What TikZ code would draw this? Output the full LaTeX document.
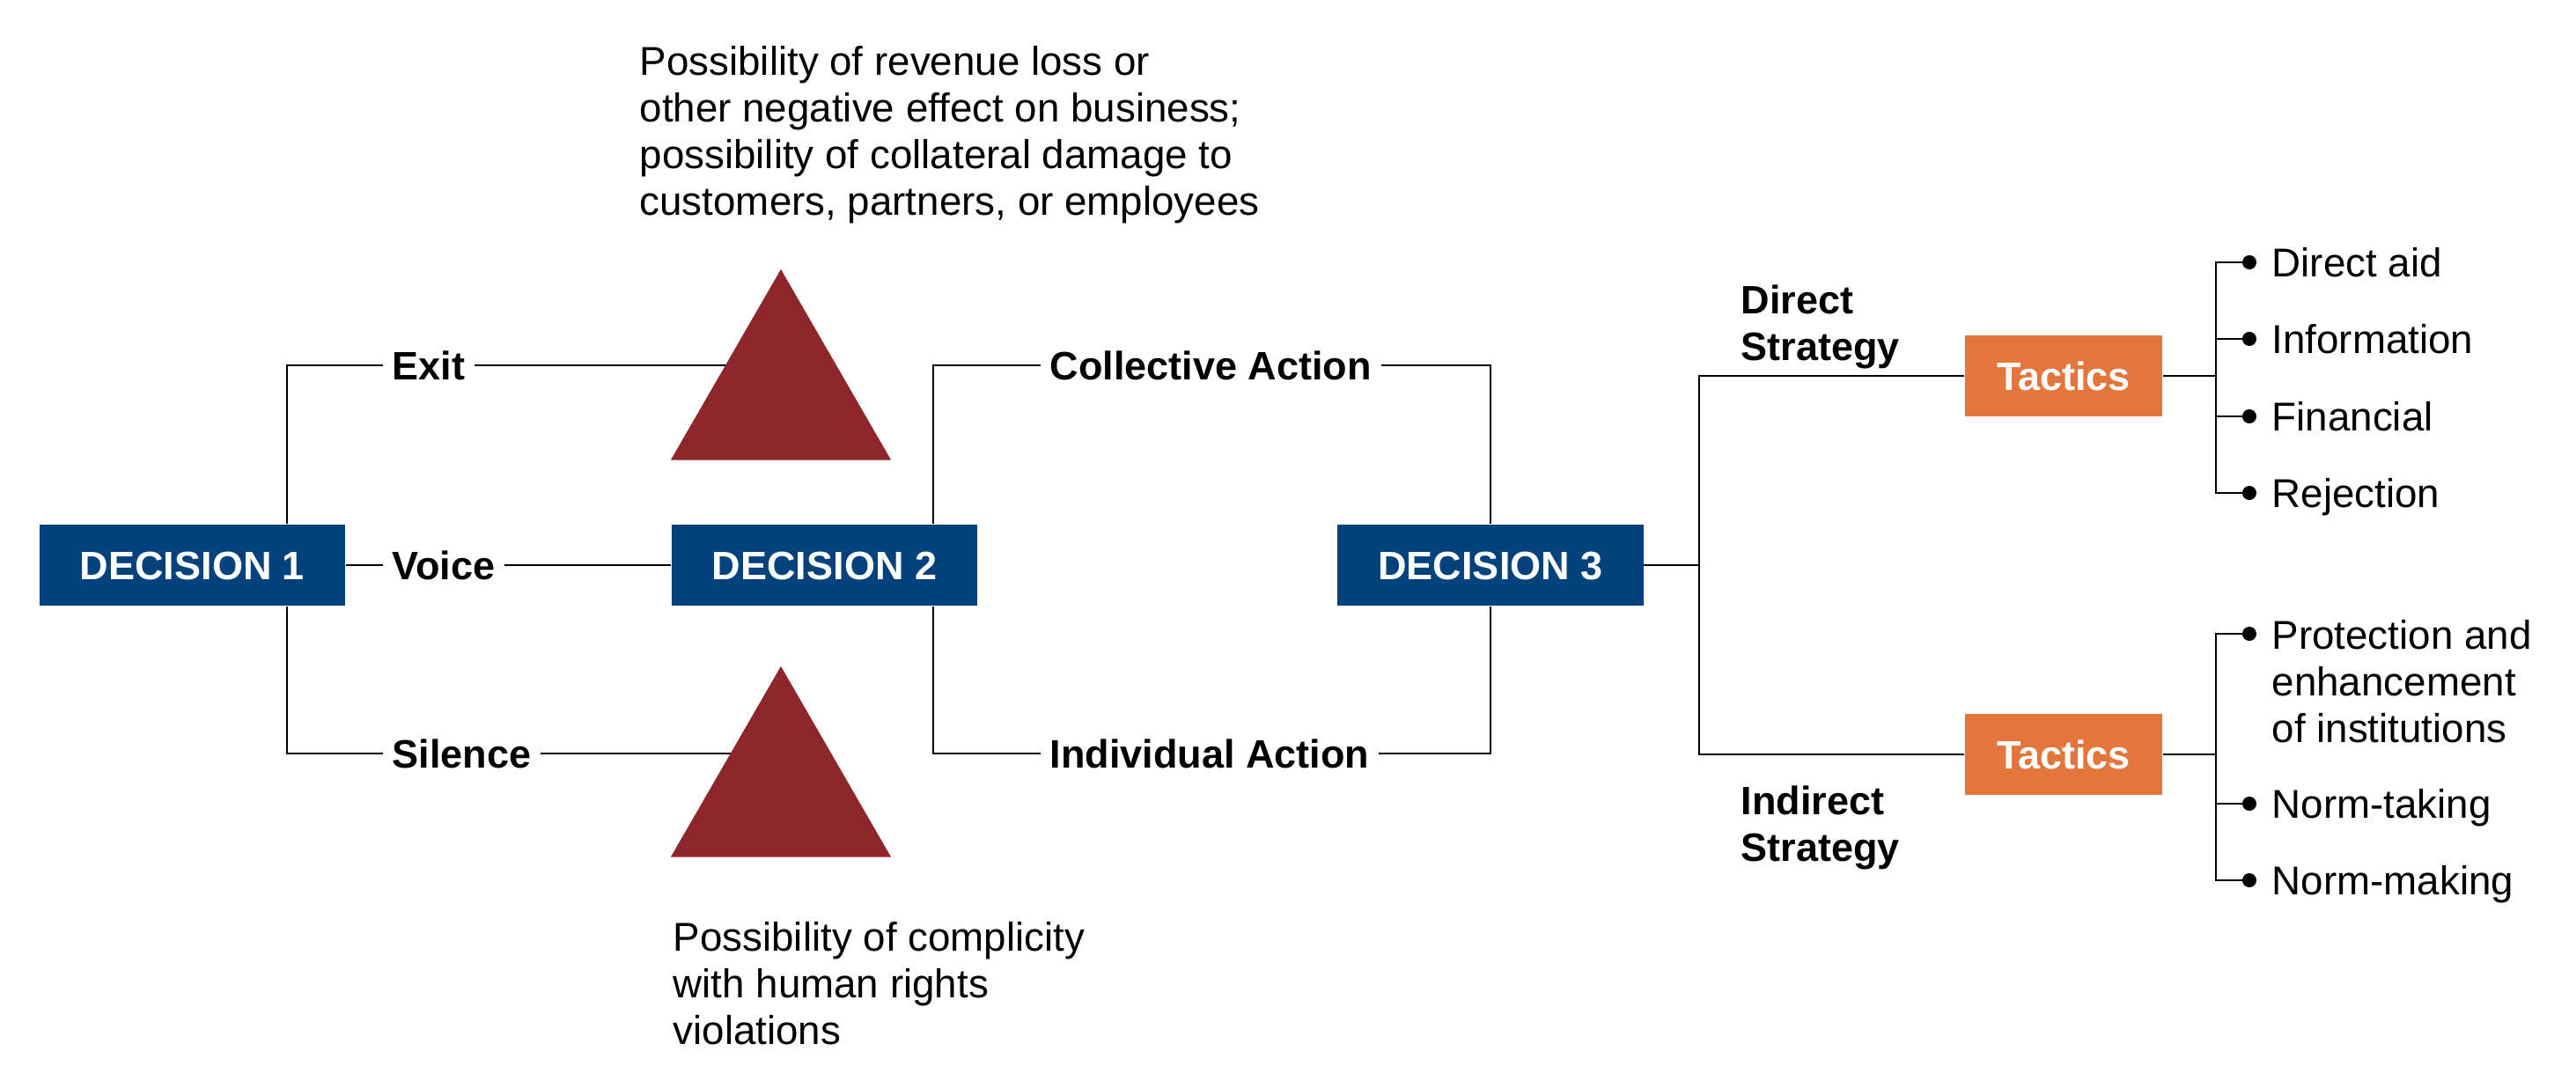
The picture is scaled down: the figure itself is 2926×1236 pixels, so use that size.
\documentclass[tikz,border=0pt]{standalone}
\usepackage{fontspec}
\setmainfont{Liberation Sans}
\usetikzlibrary{shapes.geometric,arrows.meta,backgrounds}

\definecolor{decblue}{RGB}{3,66,125}
\definecolor{tacorange}{RGB}{226,118,59}
\definecolor{riskred}{RGB}{142,39,43}

\tikzset{
    decision/.style={rectangle, fill=decblue, text=white, font=\fontsize{12.8}{15}\selectfont\bfseries,
        minimum width=3.47cm, minimum height=0.92cm, inner sep=0pt, text height=9.2pt, text depth=0pt},
    tactic/.style={decision, fill=tacorange, minimum width=2.24cm},
    choice/.style={font=\fontsize{12.8}{15}\selectfont\bfseries, anchor=west,
        inner xsep=0.1cm, inner ysep=0pt, text height=9.2pt, text depth=0pt},
    strategy/.style={font=\fontsize{12.8}{15}\selectfont\bfseries, align=left, anchor=north west, inner sep=0pt},
    item/.style={font=\fontsize{13}{15}\selectfont, anchor=west,
        inner xsep=0.17cm, inner ysep=0pt, text height=9.3pt, text depth=0pt},
    itemblock/.style={font=\fontsize{13}{15}\selectfont, align=left, anchor=north west,
        inner xsep=0.17cm, inner ysep=0pt},
    note/.style={font=\fontsize{13}{15}\selectfont, align=left, anchor=north west, inner sep=0pt},
    risk/.style={regular polygon, regular polygon sides=3, fill=riskred,
        minimum size=2.887cm, inner sep=0pt, outer sep=0pt},
    link/.style={line width=0.55pt},
    bullet/.style={link, -{Circle[length=0.16cm]}}
}

\begin{document}
\begin{tikzpicture}[x=0.01cm, y=-0.01cm]
    \useasboundingbox (0,0) rectangle (2926,1236);

    % Nodes
    \node[decision] (dec1) at (218.5,642) {DECISION 1};
    \node[decision] (dec2) at (936.5,642) {DECISION 2};
    \node[decision] (dec3) at (1693,642) {DECISION 3};
    \node[tactic] (tac1) at (2344,427) {Tactics};
    \node[tactic] (tac2) at (2344,857) {Tactics};

    \node[choice] (exit) at (435,415) {Exit};
    \node[choice] (voice) at (435,642) {Voice};
    \node[choice] (silence) at (435,856) {Silence};
    \node[choice] (collective) at (1182,415) {Collective Action};
    \node[choice] (individual) at (1182,856) {Individual Action};

    \node[strategy] (direct) at (1977,323) {Direct\\Strategy};
    \node[strategy] (indirect) at (1977,892) {Indirect\\Strategy};

    \node[item] (aid) at (2563,298) {Direct aid};
    \node[item] (info) at (2563,385) {Information};
    \node[item] (fin) at (2563,473) {Financial};
    \node[item] (rej) at (2563,560) {Rejection};
    \node[itemblock] (prot) at (2563,704) {Protection and\\enhancement\\of institutions};
    \node[item] (taking) at (2563,913) {Norm-taking};
    \node[item] (making) at (2563,1000) {Norm-making};

    \node[note] (costnote) at (726,52) {Possibility of revenue loss or\\other negative effect on business;\\possibility of collateral damage to\\customers, partners, or employees};
    \node[note] (complnote) at (764,1047) {Possibility of complicity\\with human rights\\violations};

    \node[risk] (risk1) at (887,450.3) {};
    \node[risk] (risk2) at (887,901.3) {};

    \coordinate (fork1) at (326,642);
    \coordinate (fork2) at (1060,642);
    \coordinate (split3) at (1930,642);
    \coordinate (split4) at (2517,427);
    \coordinate (split5) at (2517,857);

    % Edges
    \begin{pgfonlayer}{background}
        \draw[link] (dec1.north -| fork1) |- (exit.west);
        \draw[link] (dec1.south -| fork1) |- (silence.west);
        \draw[link] (dec1) -- (voice) -- (dec2);
        \draw[link] (exit.east) -- (exit.east -| risk1);
        \draw[link] (silence.east) -- (silence.east -| risk2);
        \draw[link] (dec2.north -| fork2) |- (collective.west);
        \draw[link] (dec2.south -| fork2) |- (individual.west);
        \draw[link] (collective.east) -| (dec3.north);
        \draw[link] (individual.east) -| (dec3.south);
        \draw[link] (dec3.east) -- (split3);
        \draw[link] (tac1.west) -| (split3) |- (tac2.west);
        \draw[link] (tac1.east) -- (split4);
        \draw[link] (tac2.east) -- (split5);
        \draw[bullet] (split4) |- (aid.west);
        \draw[bullet] (split4) |- (info.west);
        \draw[bullet] (split4) |- (fin.west);
        \draw[bullet] (split4) |- (rej.west);
        \draw[bullet] (split5) |- ([yshift=-0.16cm]prot.north west);
        \draw[bullet] (split5) |- (taking.west);
        \draw[bullet] (split5) |- (making.west);
    \end{pgfonlayer}
\end{tikzpicture}
\end{document}
